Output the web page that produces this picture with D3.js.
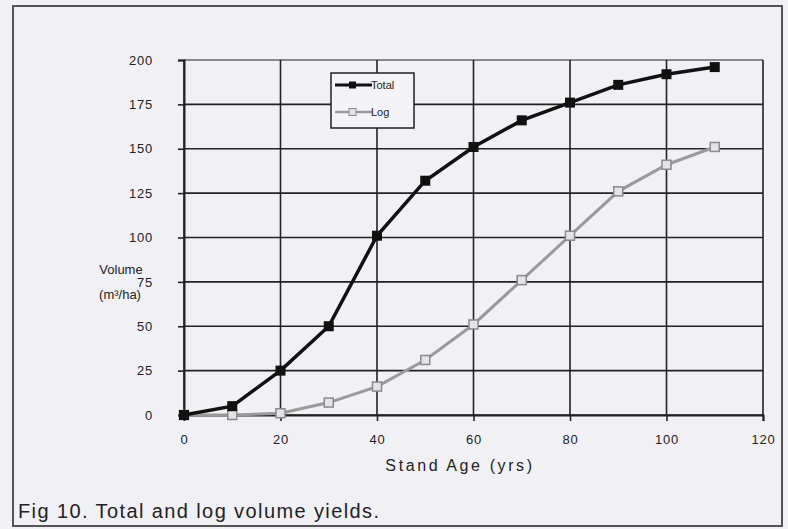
<!DOCTYPE html>
<html><head><meta charset="utf-8">
<script src="https://cdn.jsdelivr.net/npm/d3@7"></script>
<style>body{margin:0;background:#f1f1f5;}svg{display:block;font-family:"Liberation Sans",Arial,sans-serif;}</style>
</head><body>
<svg id="c" width="788" height="529"></svg>
<script>
const ages = [0,10,20,30,40,50,60,70,80,90,100,110];
const totalVol = [0,5,25,50,101,132,151,166,176,186,192,196];
const logVol = [0,0,1,7,16,31,51,76,101,126,141,151];
const xTicks = [0,20,40,60,80,100,120];
const yTicks = [0,25,50,75,100,125,150,175,200];
const seriesNames = ["Total","Log"];

const svg = d3.select("#c");
svg.append("rect").attr("x",0).attr("y",0).attr("width",788).attr("height",529).attr("fill","#f1f1f5");
svg.append("rect").attr("x",13).attr("y",6).attr("width",769).attr("height",520)
  .attr("fill","none").attr("stroke","#555").attr("stroke-width",2);

const x = d3.scaleLinear().domain([0,120]).range([184,763]);
const y = d3.scaleLinear().domain([0,200]).range([415,60]);

// grid
const g = svg.append("g");
g.selectAll(".hg").data(yTicks).join("line")
  .attr("x1",x(0)).attr("x2",x(120)).attr("y1",d=>y(d)).attr("y2",d=>y(d))
  .attr("stroke","#222").attr("stroke-width",d=>d===200?1:1.6);
g.selectAll(".vg").data(xTicks).join("line")
  .attr("y1",y(0)).attr("y2",y(200)).attr("x1",d=>x(d)).attr("x2",d=>x(d))
  .attr("stroke","#222").attr("stroke-width",1.6);

// axes
const ya = svg.append("g").attr("transform",`translate(${x(0)},0)`)
  .call(d3.axisLeft(y).tickValues(yTicks).tickSize(6).tickPadding(25));
const xa = svg.append("g").attr("transform",`translate(0,${y(0)})`)
  .call(d3.axisBottom(x).tickValues(xTicks).tickSize(6).tickPadding(14));
[ya,xa].forEach(a=>{
  a.select(".domain").attr("stroke","#222").attr("stroke-width",2);
  a.selectAll(".tick line").attr("stroke","#222").attr("stroke-width",1.6);
  a.selectAll("text").attr("font-size",13).attr("fill","#222")
    .style("letter-spacing","0.8px").style("font-family","'Liberation Sans',Arial,sans-serif");
});

// lines
const line = d3.line().x((d,i)=>x(ages[i])).y(d=>y(d));
svg.append("path").datum(logVol).attr("d",line).attr("fill","none")
  .attr("stroke","#9a9a9a").attr("stroke-width",3);
svg.selectAll(".lm").data(logVol).join("rect")
  .attr("x",(d,i)=>x(ages[i])-4.5).attr("y",d=>y(d)-4.5).attr("width",9).attr("height",9)
  .attr("fill","#e4e4e8").attr("stroke","#8a8a8a").attr("stroke-width",1.5);
svg.append("path").datum(totalVol).attr("d",line).attr("fill","none")
  .attr("stroke","#111").attr("stroke-width",3.5);
svg.selectAll(".tm").data(totalVol).join("rect")
  .attr("x",(d,i)=>x(ages[i])-5).attr("y",d=>y(d)-5).attr("width",10).attr("height",10)
  .attr("fill","#111");

// legend
const lg = svg.append("g");
lg.append("rect").attr("x",331).attr("y",73).attr("width",83).attr("height",55)
  .attr("fill","#f4f4f8").attr("stroke","#222").attr("stroke-width",1.5);
const ly = [85,112];
lg.append("line").attr("x1",335).attr("x2",372).attr("y1",ly[0]).attr("y2",ly[0]).attr("stroke","#111").attr("stroke-width",3);
lg.append("line").attr("x1",335).attr("x2",372).attr("y1",ly[1]).attr("y2",ly[1]).attr("stroke","#999").attr("stroke-width",2.5);
lg.append("rect").attr("x",349).attr("y",ly[0]-3.5).attr("width",7).attr("height",7).attr("fill","#111");
lg.append("rect").attr("x",349).attr("y",ly[1]-3.5).attr("width",7).attr("height",7).attr("fill","#e4e4e8").attr("stroke","#8a8a8a");
lg.selectAll("text").data(seriesNames).join("text")
  .attr("x",371).attr("y",(d,i)=>ly[i]+4).attr("font-size",11).attr("fill","#222").text(d=>d);

// titles
svg.append("text").attr("x",121).attr("y",274).attr("text-anchor","middle").attr("font-size",13).attr("fill","#222").text("Volume");
svg.append("text").attr("x",120).attr("y",299).attr("text-anchor","middle").attr("font-size",13).attr("fill","#222").text("(m³/ha)");
svg.append("text").attr("x",460).attr("y",471).attr("text-anchor","middle").attr("font-size",16)
  .style("letter-spacing","2.6px").attr("fill","#222").text("Stand Age (yrs)");
svg.append("text").attr("x",18).attr("y",518).attr("font-size",20)
  .style("letter-spacing","1.4px").attr("fill","#222").text("Fig 10. Total and log volume yields.");
</script>
</body></html>
